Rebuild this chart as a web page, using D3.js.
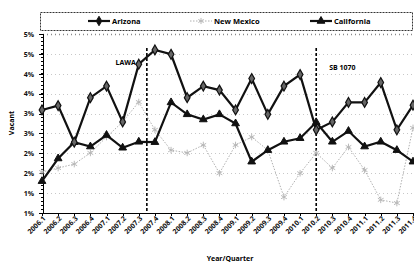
<!DOCTYPE html>
<meta charset="utf-8">
<style>
body {
	margin: 0;
	background-color: #ffffff;
	font-family: "Open Sans", "Liberation Sans", sans-serif;
}
.axis text {
	font: bold 7px "Open Sans", "Liberation Sans", sans-serif;
	fill: #111;
}
.axis line, .axis path {
	fill: none;
	stroke: #000;
	shape-rendering: crispEdges;
}
</style>
<body>
<script src="https://d3js.org/d3.v7.min.js"></script>
<script>
var width = 414;
var height = 263;

var categories = ["2006.1","2006.2","2006.3","2006.4","2007.1","2007.2","2007.3","2007.4",
	"2008.1","2008.2","2008.3","2008.4","2009.1","2009.2","2009.3","2009.4",
	"2010.1","2010.2","2010.3","2010.4","2011.1","2011.2","2011.3","2011.4"];

var arizona = [3.59,3.70,2.78,3.90,4.19,3.29,4.74,5.10,4.99,3.90,4.19,4.09,
	3.59,4.38,3.48,4.19,4.48,3.09,3.29,3.78,3.78,4.28,3.09,3.71];
var newMexico = [2.03,2.13,2.23,2.51,2.91,3.29,3.79,3.09,2.58,2.51,2.71,2.00,
	2.71,2.91,2.58,1.40,2.00,2.51,2.13,2.66,2.08,1.33,1.25,3.14];
var california = [1.80,2.37,2.78,2.67,2.96,2.64,2.79,2.78,3.78,3.48,3.35,3.48,
	3.25,2.29,2.58,2.79,2.88,3.28,2.79,3.06,2.67,2.79,2.58,2.29];

var yTicks = [1,1.5,2,2.5,3,3.5,4,4.5,5,5.5];
var yTickLabels = ["1%","1%","2%","2%","3%","3%","4%","4%","5%","5%"];

var events = [{label: "LAWA", at: 6.5}, {label: "SB 1070", at: 17}];

var x = d3.scalePoint().domain(categories).range([42, 413]);
var y = d3.scaleLinear().domain([1, 5.5]).range([213, 34]);
var step = x.step();

var svg = d3.select("body").append("svg")
	.attr("width", width)
	.attr("height", height);

// gridlines
svg.append("g")
	.selectAll("line")
	.data(yTicks)
	.enter().append("line")
	.attr("x1", 43).attr("x2", width)
	.attr("y1", function(d) { return Math.round(y(d)) + 0.5; })
	.attr("y2", function(d) { return Math.round(y(d)) + 0.5; })
	.style("stroke", function(d, i) { return i == yTicks.length - 1 ? "#888" : "#c8c8c8"; })
	.style("stroke-width", function(d, i) { return i == yTicks.length - 1 ? 1.5 : 1; })
	.style("stroke-dasharray", "1,3");

// y axis
var yAxis = d3.axisLeft(y)
	.tickValues(yTicks)
	.tickSize(4)
	.tickPadding(5)
	.tickFormat(function(d, i) { return yTickLabels[i]; });

svg.append("g")
	.attr("class", "y axis")
	.attr("transform", "translate(43,0)")
	.call(yAxis);

// minor ticks
svg.append("g")
	.attr("class", "axis")
	.selectAll("line")
	.data(d3.range(1, 5.5, 0.1))
	.enter().append("line")
	.attr("x1", 41).attr("x2", 43)
	.attr("y1", function(d) { return y(d); })
	.attr("y2", function(d) { return y(d); });

// x axis, labels drawn separately so they can be slanted
var xAxis = d3.axisBottom(x).tickSize(3).tickSizeOuter(0).tickFormat("");
var gx = svg.append("g")
	.attr("class", "x axis")
	.attr("transform", "translate(0,213)")
	.call(xAxis);
gx.select(".domain").attr("d", "M43,0H" + width);

svg.append("g")
	.attr("class", "axis")
	.selectAll("text")
	.data(categories)
	.enter().append("text")
	.attr("text-anchor", "end")
	.attr("transform", function(d) { return "translate(" + (x(d) + 4) + ",219) rotate(-45)"; })
	.text(function(d) { return d; });

// event markers
svg.append("g")
	.selectAll("line")
	.data(events)
	.enter().append("line")
	.attr("x1", function(d) { return x.range()[0] + d.at * step; })
	.attr("x2", function(d) { return x.range()[0] + d.at * step; })
	.attr("y1", 48).attr("y2", 213)
	.style("stroke", "#000")
	.style("stroke-width", 1.6)
	.style("stroke-dasharray", "3,2");

svg.append("text")
	.attr("x", x.range()[0] + events[0].at * step - 11)
	.attr("y", 65)
	.attr("text-anchor", "end")
	.style("font", "bold 7px 'Open Sans', sans-serif")
	.text(events[0].label);
svg.append("text")
	.attr("x", x.range()[0] + events[1].at * step + 13)
	.attr("y", 70)
	.style("font", "bold 7px 'Open Sans', sans-serif")
	.text(events[1].label);

// series
var line = d3.line()
	.x(function(d, i) { return x(categories[i]); })
	.y(function(d) { return y(d); });

svg.append("path").datum(newMexico)
	.attr("d", line)
	.style("fill", "none")
	.style("stroke", "#b0b0b0")
	.style("stroke-width", 1)
	.style("stroke-dasharray", "1.5,1.5");

svg.append("g").selectAll("path")
	.data(newMexico)
	.enter().append("path")
	.attr("transform", function(d, i) { return "translate(" + x(categories[i]) + "," + y(d) + ")"; })
	.attr("d", d3.symbol().type(d3.symbolAsterisk).size(30))
	.style("fill", "none")
	.style("stroke", "#b8b8b8")
	.style("stroke-width", 1);

svg.append("path").datum(california)
	.attr("d", line)
	.style("fill", "none")
	.style("stroke", "#111")
	.style("stroke-width", 2.2);

svg.append("path").datum(arizona)
	.attr("d", line)
	.style("fill", "none")
	.style("stroke", "#111")
	.style("stroke-width", 2.2);

svg.append("g").selectAll("path")
	.data(california)
	.enter().append("path")
	.attr("transform", function(d, i) { return "translate(" + x(categories[i]) + "," + y(d) + ")"; })
	.attr("d", d3.symbol().type(d3.symbolTriangle).size(26))
	.style("fill", "#111")
	.style("stroke", "#111");

svg.append("g").selectAll("path")
	.data(arizona)
	.enter().append("path")
	.attr("transform", function(d, i) { return "translate(" + x(categories[i]) + "," + y(d) + ")"; })
	.attr("d", d3.symbol().type(d3.symbolDiamond).size(28))
	.style("fill", "#666")
	.style("stroke", "#111")
	.style("stroke-width", 1.2);

// axis titles
svg.append("text")
	.attr("transform", "translate(14,123) rotate(-90)")
	.attr("text-anchor", "middle")
	.style("font", "bold 7px 'Open Sans', sans-serif")
	.text("Vacant");
svg.append("text")
	.attr("x", 230).attr("y", 261)
	.attr("text-anchor", "middle")
	.style("font", "bold 7px 'Open Sans', sans-serif")
	.text("Year/Quarter");

// legend
var legendItems = [
	{name: "Arizona", x: 88, dark: true, sym: d3.symbolDiamond},
	{name: "New Mexico", x: 190, dark: false, sym: d3.symbolAsterisk},
	{name: "California", x: 310, dark: true, sym: d3.symbolTriangle}
];
svg.append("rect")
	.attr("x", 40.5).attr("y", 12.5)
	.attr("width", 372).attr("height", 18)
	.style("fill", "#fff")
	.style("stroke", "#333")
	.style("stroke-width", 1)
	.style("stroke-dasharray", "2,1");

var li = svg.append("g").selectAll("g")
	.data(legendItems)
	.enter().append("g")
	.attr("transform", function(d) { return "translate(" + d.x + ",21)"; });
li.append("line")
	.attr("x1", 0).attr("x2", 22)
	.style("stroke", function(d) { return d.dark ? "#111" : "#b0b0b0"; })
	.style("stroke-width", function(d) { return d.dark ? 2.2 : 1; })
	.style("stroke-dasharray", function(d) { return d.dark ? null : "1.5,1.5"; });
li.append("path")
	.attr("transform", "translate(11,0)")
	.attr("d", function(d) { return d3.symbol().type(d.sym).size(26)(); })
	.style("fill", function(d) { return d.dark ? "#111" : "none"; })
	.style("stroke", function(d) { return d.dark ? "#111" : "#b8b8b8"; });
li.append("text")
	.attr("x", 24).attr("y", 2.5)
	.style("font", "bold 7.5px 'Open Sans', sans-serif")
	.text(function(d) { return d.name; });
</script>
</body>
